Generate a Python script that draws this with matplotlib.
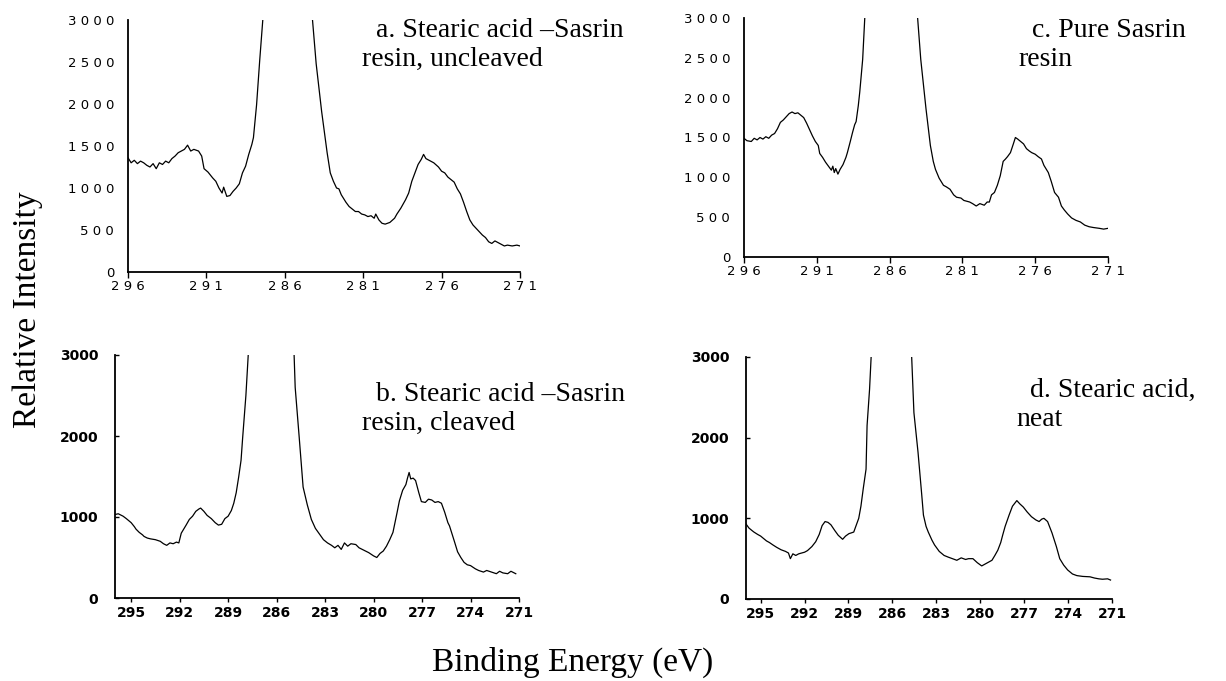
import numpy as np
import matplotlib
matplotlib.use("Agg")
import matplotlib.pyplot as plt

# ---- data (binding energy in eV, intensity) ----
# peak tops go far above 3000 and are clipped by the axis limit
energy_a = [296.0, 295.8, 295.6, 295.4, 295.2, 295.0, 294.8, 294.6, 294.4, 294.2, 294.0, 293.8, 293.6,
            293.4, 293.2, 293.0, 292.8, 292.6, 292.4, 292.2, 292.0, 291.8, 291.5, 291.3, 291.15, 290.9,
            290.6, 290.4, 290.2, 290.0, 289.9, 289.7, 289.5, 289.3, 289.1, 288.9, 288.7, 288.5, 288.3,
            288.1, 288.0, 287.8, 287.6, 287.4, 287.3, 285.8, 284.3, 284.0, 283.65, 283.3, 283.1, 282.9,
            282.7, 282.55, 282.4, 282.3, 282.1, 281.9, 281.7, 281.5, 281.3, 281.1, 280.9, 280.7, 280.5,
            280.3, 280.2, 280.0, 279.8, 279.6, 279.3, 279.0, 278.85, 278.6, 278.3, 278.1, 277.9, 277.7,
            277.5, 277.3, 277.15, 277.0, 276.8, 276.5, 276.2, 276.0, 275.8, 275.6, 275.4, 275.2, 275.0,
            274.8, 274.6, 274.4, 274.2, 274.0, 273.8, 273.6, 273.4, 273.2, 273.0, 272.8, 272.6, 272.4,
            272.2, 272.0, 271.8, 271.5, 271.2, 271.0]
counts_a = [1360, 1300, 1330, 1290, 1320, 1300, 1270, 1250, 1290, 1230, 1300, 1280, 1320,
            1300, 1350, 1380, 1420, 1440, 1460, 1510, 1440, 1460, 1440, 1380, 1230, 1190,
            1120, 1080, 1000, 940, 1010, 900, 910, 960, 1000, 1050, 1180, 1260, 1400,
            1520, 1600, 1990, 2520, 3010, 3400, 9000, 3150, 2480, 1910, 1420, 1180, 1080,
            1000, 990, 920, 890, 830, 780, 750, 720, 720, 690, 680, 660, 670,
            640, 690, 620, 580, 570, 590, 640, 690, 760, 860, 940, 1080, 1180,
            1280, 1340, 1400, 1350, 1330, 1300, 1250, 1200, 1180, 1130, 1100, 1070, 990,
            930, 830, 720, 620, 560, 520, 480, 440, 410, 360, 340, 370, 350,
            330, 310, 320, 310, 320, 310]

energy_c = [296.0, 295.8, 295.5, 295.3, 295.1, 294.9, 294.7, 294.5, 294.3, 294.1, 293.9, 293.7, 293.5,
            293.3, 293.1, 292.9, 292.7, 292.5, 292.3, 292.1, 291.9, 291.7, 291.5, 291.3, 291.1, 290.9,
            290.8, 290.6, 290.4, 290.2, 290.0, 289.9, 289.8, 289.7, 289.55, 289.4, 289.2, 289.0, 288.9,
            288.7, 288.55, 288.4, 288.3, 288.15, 288.05, 287.85, 287.7, 287.6, 285.9, 284.2, 283.86,
            283.5, 283.2, 283.0, 282.85, 282.6, 282.3, 282.1, 281.85, 281.6, 281.4, 281.1, 280.9, 280.7,
            280.5, 280.3, 280.05, 279.8, 279.5, 279.3, 279.15, 279.0, 278.8, 278.6, 278.4, 278.2, 278.04,
            277.9, 277.7, 277.5, 277.36, 277.2, 277.0, 276.8, 276.6, 276.4, 276.24, 276.0, 275.8, 275.57,
            275.4, 275.1, 274.9, 274.67, 274.4, 274.2, 274.0, 273.77, 273.5, 273.2, 272.9, 272.6, 272.3,
            272.0, 271.6, 271.3, 271.0]
counts_c = [1490, 1460, 1450, 1490, 1470, 1500, 1480, 1510, 1490, 1530, 1550, 1610, 1690,
            1720, 1760, 1800, 1820, 1800, 1810, 1780, 1750, 1680, 1600, 1520, 1450, 1400,
            1300, 1250, 1190, 1140, 1090, 1140, 1060, 1110, 1040, 1100, 1160, 1250, 1310,
            1450, 1560, 1660, 1700, 1900, 2070, 2480, 3020, 3400, 9000, 3300, 2480,
            1860, 1400, 1200, 1100, 990, 900, 880, 850, 780, 750, 740, 710, 700,
            690, 670, 640, 670, 650, 690, 690, 780, 810, 900, 1020, 1200, 1230,
            1260, 1310, 1420, 1500, 1480, 1450, 1420, 1360, 1330, 1310, 1290, 1260, 1230,
            1150, 1060, 950, 810, 750, 640, 590, 540, 490, 460, 440, 400, 380,
            370, 360, 350, 360]

energy_b = [296.0, 295.8, 295.5, 295.3, 295.0, 294.8, 294.7, 294.5, 294.3, 294.2, 294.0, 293.8, 293.5,
            293.2, 293.0, 292.8, 292.6, 292.4, 292.2, 292.05, 291.9, 291.6, 291.4, 291.2, 291.0, 290.8,
            290.7, 290.5, 290.3, 290.04, 289.8, 289.6, 289.4, 289.2, 289.0, 288.8, 288.65, 288.5, 288.35,
            288.2, 288.1, 287.9, 287.75, 287.6, 286.4, 284.95, 284.85, 284.6, 284.36, 284.1, 283.85,
            283.6, 283.35, 283.1, 282.85, 282.6, 282.4, 282.2, 282.0, 281.8, 281.6, 281.4, 281.1, 280.9,
            280.6, 280.3, 280.0, 279.8, 279.6, 279.4, 279.2, 279.0, 278.8, 278.55, 278.4, 278.2, 278.0,
            277.9, 277.8, 277.7, 277.55, 277.4, 277.2, 277.04, 276.8, 276.6, 276.4, 276.2, 276.0, 275.8,
            275.6, 275.4, 275.3, 275.0, 274.8, 274.6, 274.4, 274.2, 274.0, 273.7, 273.5, 273.2, 273.0,
            272.7, 272.4, 272.2, 272.0, 271.7, 271.5, 271.2]
counts_b = [1030, 1040, 1010, 980, 930, 880, 850, 810, 780, 760, 740, 730, 720,
            700, 670, 650, 680, 670, 690, 680, 800, 900, 970, 1010, 1070, 1100,
            1110, 1070, 1020, 980, 930, 900, 910, 980, 1010, 1080, 1170, 1300, 1490,
            1700, 1980, 2500, 3020, 3500, 9000, 3200, 2600, 1980, 1370, 1150, 970,
            860, 790, 720, 680, 650, 620, 650, 600, 680, 640, 670, 660, 620,
            590, 560, 520, 500, 550, 580, 640, 720, 810, 1050, 1200, 1330, 1400,
            1480, 1550, 1470, 1480, 1450, 1300, 1190, 1180, 1220, 1210, 1180, 1190, 1170,
            1060, 930, 890, 700, 570, 500, 440, 410, 400, 360, 340, 320, 340,
            320, 300, 330, 310, 300, 330, 300]

energy_d = [296.0, 295.8, 295.6, 295.46, 295.2, 295.0, 294.8, 294.6, 294.4, 294.16, 293.9, 293.6, 293.3,
            293.1, 292.97, 292.8, 292.6, 292.4, 292.2, 292.0, 291.8, 291.5, 291.24, 291.0, 290.8, 290.6,
            290.4, 290.2, 289.94, 289.7, 289.4, 289.2, 288.97, 288.8, 288.64, 288.5, 288.3, 288.15, 287.99,
            287.8, 287.73, 287.56, 287.45, 287.4, 286.1, 284.75, 284.53, 284.25, 284.0, 283.88, 283.7,
            283.55, 283.3, 283.12, 282.8, 282.47, 282.2, 281.9, 281.6, 281.3, 281.0, 280.8, 280.5, 280.2,
            279.9, 279.6, 279.2, 279.0, 278.8, 278.6, 278.47, 278.3, 278.03, 277.8, 277.5, 277.3, 277.06,
            276.8, 276.5, 276.2, 275.98, 275.8, 275.65, 275.4, 275.1, 274.8, 274.57, 274.3, 274.03, 273.7,
            273.4, 273.0, 272.5, 272.2, 271.9, 271.65, 271.3, 271.1]
counts_d = [930, 880, 850, 830, 800, 780, 750, 720, 700, 670, 640, 610, 590,
            570, 500, 560, 540, 560, 570, 580, 600, 650, 710, 800, 910, 960,
            950, 920, 850, 790, 740, 780, 810, 820, 830, 900, 1000, 1150, 1370,
            1610, 2150, 2600, 3010, 3300, 9000, 3300, 2310, 1820, 1300, 1040, 900,
            830, 730, 670, 590, 540, 520, 500, 480, 510, 490, 500, 500, 450,
            410, 440, 480, 540, 605, 700, 790, 900, 1040, 1150, 1220, 1180, 1140,
            1080, 1020, 980, 960, 990, 1000, 960, 820, 650, 500, 420, 360, 310,
            290, 280, 275, 260, 250, 245, 250, 235]

top_xticks = [296, 291, 286, 281, 276, 271]
top_yticks = [0, 500, 1000, 1500, 2000, 2500, 3000]
bottom_xticks = [295, 292, 289, 286, 283, 280, 277, 274, 271]
bottom_yticks = [0, 1000, 2000, 3000]

labels = {
    "a": "  a. Stearic acid \u2013Sasrin\nresin, uncleaved",
    "b": "  b. Stearic acid \u2013Sasrin\nresin, cleaved",
    "c": "  c. Pure Sasrin\nresin",
    "d": "  d. Stearic acid,\nneat",
}

W, H = 1226, 681
fig = plt.figure(figsize=(W / 100, H / 100), dpi=100)
serif = "Liberation Serif"


def add_panel(left, top, right, bottom):
    # pixel box -> figure fraction
    return fig.add_axes([left / W, (H - bottom) / H, (right - left) / W, (bottom - top) / H])


def style(ax, xticks, yticks, spaced):
    ax.set_xlim(296, 271)
    ax.set_ylim(0, 3000)
    ax.set_xticks(xticks)
    ax.set_yticks(yticks)
    for s in ("top", "right"):
        ax.spines[s].set_visible(False)
    for s in ("left", "bottom"):
        ax.spines[s].set_linewidth(1.3)
    if spaced:
        # letter-spaced tick numbers like the original
        ax.set_xticklabels([" ".join(str(t)) for t in xticks], fontfamily="DejaVu Sans", fontsize=9.5)
        ax.set_yticklabels([" ".join(str(t)) for t in yticks], fontfamily="DejaVu Sans", fontsize=9.5)
        ax.tick_params(axis="x", length=4, width=1, pad=2)
        ax.tick_params(axis="y", length=0, pad=10)
    else:
        ax.set_xticklabels([str(t) for t in xticks], fontfamily="DejaVu Sans", fontsize=10, fontweight="bold")
        ax.set_yticklabels([str(t) for t in yticks], fontfamily="DejaVu Sans", fontsize=10, fontweight="bold")
        ax.tick_params(axis="x", length=3, width=1, pad=3)
        ax.tick_params(axis="y", length=3, width=1, direction="in", pad=12)


panels = [
    ("a", (128, 20, 520, 272), energy_a, counts_a, top_xticks, top_yticks, True, (362, 18)),
    ("c", (744, 18, 1108, 257), energy_c, counts_c, top_xticks, top_yticks, True, (1018, 18)),
    ("b", (115, 355, 519, 598), energy_b, counts_b, bottom_xticks, bottom_yticks, False, (362, 382)),
    ("d", (746, 357, 1112, 599), energy_d, counts_d, bottom_xticks, bottom_yticks, False, (1016, 378)),
]

for key, box, xs, ys, xt, yt, spaced, txt in panels:
    ax = add_panel(*box)
    ax.plot(xs, ys, color="black", linewidth=0.9)
    style(ax, xt, yt, spaced)
    fig.text(txt[0] / W, (H - txt[1]) / H, labels[key], family=serif, fontsize=20,
             va="top", ha="left", linespacing=1.2)

fig.text(28 / W, (H - 310) / H, "Relative Intensity", family=serif, fontsize=24,
         rotation=90, va="center", ha="center")
fig.text(573 / W, (H - 662) / H, "Binding Energy (eV)", family=serif, fontsize=24,
         va="center", ha="center")

fig.savefig("out.png", dpi=100)
